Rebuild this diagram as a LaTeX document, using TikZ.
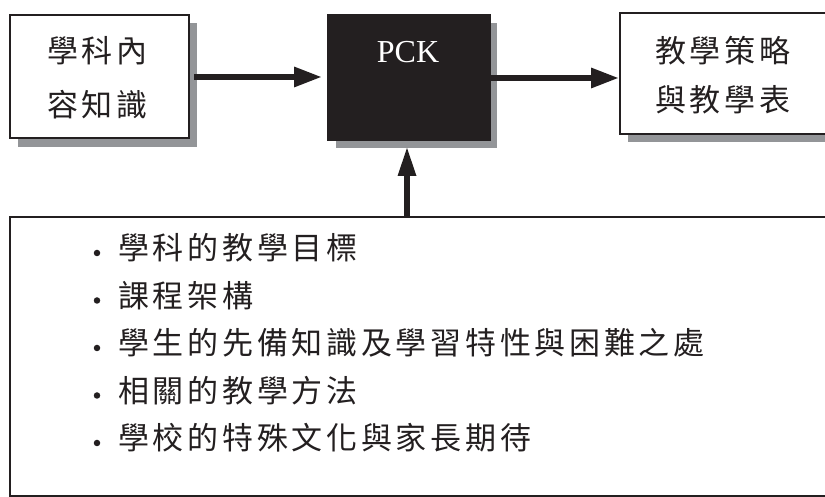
\documentclass[tikz,border=0pt]{standalone}
\usepackage{fontspec}
\setmainfont{Liberation Serif}
\newfontfamily\cjkfont[LetterSpace=12]{Noto Sans CJK TC}
\usetikzlibrary{arrows.meta,calc}
\definecolor{inkc}{HTML}{231F20}
\definecolor{shadowc}{HTML}{939598}
\tikzset{
  boxline/.style={draw=inkc, line width=2pt, inner sep=0pt},
  cjk/.style={font=\cjkfont\fontsize{31}{31}\selectfont, text=inkc, inner sep=0pt},
  bul/.style={circle, fill=inkc, draw=none, minimum size=6.5pt, inner sep=0pt},
  arr/.style={draw=inkc, line width=6pt, -{Triangle[length=28pt,width=19pt]}},
  shaft/.style={draw=inkc, line width=6pt},
  head/.style={fill=inkc, draw=none},
}
\begin{document}
\begin{tikzpicture}[x=1pt,y=1pt]
\useasboundingbox (0,0) rectangle (825,497);
% shadows
\fill[shadowc] (18,474) rectangle (197,350);
\fill[shadowc] (336,474) rectangle (497,349);
\fill[shadowc] (628,476) rectangle (850,355);
% boxes
\node[boxline, fill=white, minimum width=179pt, minimum height=123pt] (L) at (99.5,420.5) {};
\node[boxline, fill=inkc, minimum width=162pt, minimum height=125pt] (P) at (409,419.5) {};
\node[boxline, fill=white, minimum width=225pt, minimum height=121pt] (R) at (732.5,423.5) {};
\node[boxline, fill=white, minimum width=835pt, minimum height=279pt] (B) at (427.5,140.5) {};
% texts
\node[cjk, anchor=base west] (l1) at (47,434) {學科內};
\node[cjk, anchor=base west] (l2) at (47,380) {容知識};
\node[font=\fontsize{32}{32}\selectfont, text=white, inner sep=0pt, anchor=base] (pck) at (408,434) {PCK};
\node[cjk, anchor=base west] (r1) at (655,434) {教學策略};
\node[cjk, anchor=base west] (r2) at (655,385) {與教學表};
\foreach \i/\yy/\t in {1/237/學科的教學目標,2/189.5/課程架構,3/142/學生的先備知識及學習特性與困難之處,4/94.5/相關的教學方法,5/47/學校的特殊文化與家長期待}{
  \node[bul] (b\i) at (97,\yy+7) {};
  \node[cjk, anchor=base west] (t\i) at (118,\yy) {\t};
}
% arrows
\coordinate (a1s) at (194,420);
\coordinate (a1e) at (322,420);
\draw[arr] (a1s) -- (a1e);
\coordinate (a2s) at (490,419);
\draw[arr] (a2s) -- (a2s -| R.west);
\coordinate (a3s) at (407,280);
\coordinate (a3e) at (407,349);
\draw[shaft] (a3s) -- ($(a3e)+(0,-26)$);
\fill[head] (a3e) -- ++(-9.5,-28) -- ++(19,0) -- cycle;
\end{tikzpicture}
\end{document}
